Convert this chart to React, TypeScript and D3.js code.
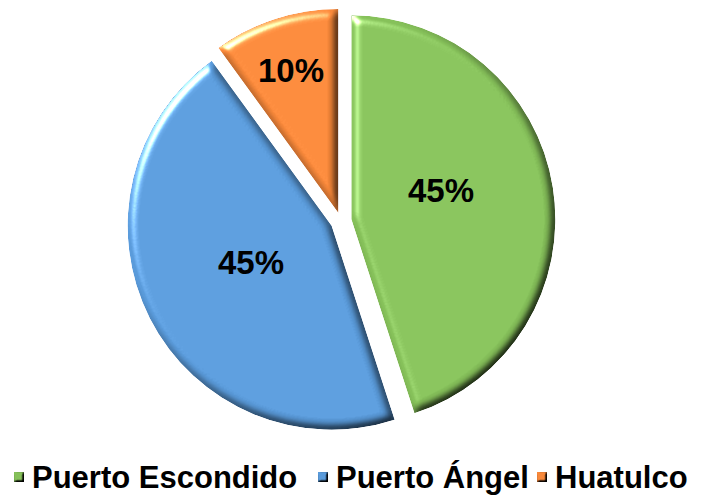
import React from "react";
import * as d3 from "d3";

const categories = ["Puerto Escondido", "Puerto Ángel", "Huatulco"];
const values = [45, 45, 10];
const labels = ["45%", "45%", "10%"];
const colors = ["#86C15A", "#5A9BDB", "#F8883A"];
const explode = [10.5, 10.5, 8.5];

const W = 701;
const H = 499;
const CX = 341;
const CY = 221;
const R = 204;

export default function App() {
  const pie = d3.pie<number>().sort(null).startAngle(0).endAngle(2 * Math.PI)(values);
  const arc = d3.arc<d3.PieArcDatum<number>>().innerRadius(0).outerRadius(R);
  const legendX = [14, 318, 537];
  const labelPos: [number, number][] = [[441, 190], [251, 262], [291, 70]];
  return (
    <svg width={W} height={H} style={{ position: "absolute", left: 0, top: 0, background: "#fff" }}
      fontFamily="'Liberation Sans', Arial, sans-serif">
      <defs>
        <filter id="bevel" x="-10%" y="-10%" width="120%" height="120%" colorInterpolationFilters="sRGB">
          <feGaussianBlur in="SourceAlpha" stdDeviation="4" result="blur" />
          <feSpecularLighting in="blur" surfaceScale="5" specularConstant="1" specularExponent="24"
            lightingColor="#ffffff" result="spec">
            <feDistantLight azimuth="225" elevation="35" />
          </feSpecularLighting>
          <feComposite in="spec" in2="SourceAlpha" operator="in" result="specIn" />
          <feDiffuseLighting in="blur" surfaceScale="5" diffuseConstant="1.22" lightingColor="#ffffff" result="diff">
            <feDistantLight azimuth="225" elevation="55" />
          </feDiffuseLighting>
          <feComposite in="SourceGraphic" in2="diff" operator="arithmetic" k1="1" k2="0" k3="0" k4="0" result="shaded" />
          <feComposite in="shaded" in2="SourceAlpha" operator="in" result="shadedIn" />
          <feComposite in="shadedIn" in2="specIn" operator="arithmetic" k1="0" k2="1" k3="0.9" k4="-0.03" />
        </filter>
        <filter id="bevelSmall" x="-30%" y="-30%" width="160%" height="160%" colorInterpolationFilters="sRGB">
          <feGaussianBlur in="SourceAlpha" stdDeviation="1" result="blur" />
          <feDiffuseLighting in="blur" surfaceScale="3" diffuseConstant="1.22" lightingColor="#ffffff" result="diff">
            <feDistantLight azimuth="225" elevation="55" />
          </feDiffuseLighting>
          <feComposite in="SourceGraphic" in2="diff" operator="arithmetic" k1="1" k2="0" k3="0" k4="0" result="shaded" />
          <feComposite in="shaded" in2="SourceAlpha" operator="in" />
        </filter>
      </defs>
      {pie.map((d, i) => {
        const mid = (d.startAngle + d.endAngle) / 2;
        const dx = Math.sin(mid) * explode[i];
        const dy = -Math.cos(mid) * explode[i];
        return (
          <g key={categories[i]} transform={`translate(${CX + dx},${CY + dy})`}>
            <path d={arc(d) || ""} fill={colors[i]} filter="url(#bevel)" />
          </g>
        );
      })}
      {labels.map((l, i) => (
        <text key={i} x={labelPos[i][0]} y={labelPos[i][1]} textAnchor="middle" dominantBaseline="central"
          fontSize={33} fontWeight="bold" fill="#000">{l}</text>
      ))}
      {categories.map((c, i) => (
        <g key={c} transform={`translate(${legendX[i]},0)`}>
          <rect x={0} y={472} width={10} height={10} fill={colors[i]} filter="url(#bevelSmall)" />
          <text x={18} y={488} fontSize={31} fontWeight="bold" fill="#000">{c}</text>
        </g>
      ))}
    </svg>
  );
}
